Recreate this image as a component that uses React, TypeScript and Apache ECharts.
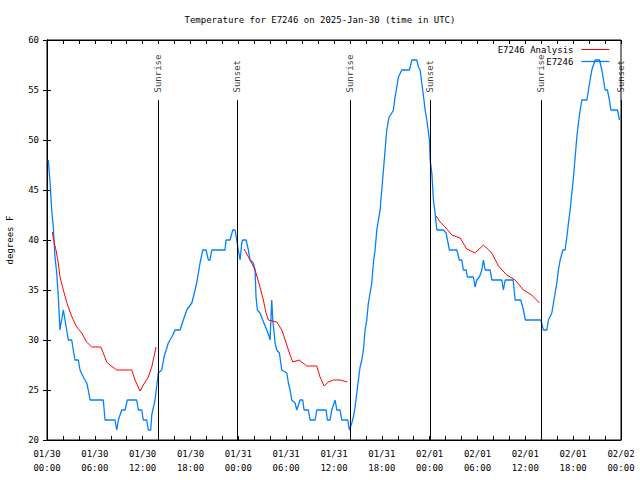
import React, { useEffect, useRef } from "react";
import * as echarts from "echarts";

// Hours since 2025-01-30 00:00 UTC
const stationHours = [
  0.16, 0.38, 0.59, 0.79, 1.0, 1.22, 1.42, 1.63, 1.72, 1.84, 2.05, 2.26, 2.47, 2.67, 3.1, 3.3, 3.51, 3.93, 4.14, 4.55,
  4.98, 5.18, 5.4, 7.06, 7.28, 8.53, 8.75, 8.95, 9.37, 9.79, 10.08, 11.25, 11.46, 11.88, 12.08, 12.51, 12.71, 13.01, 13.14, 13.55,
  13.96, 14.39, 14.68, 15.22, 15.65, 16.06, 16.69, 17.1, 17.53, 18.16, 18.36, 18.78, 19.2, 19.54, 19.95, 20.24, 20.45, 20.66, 22.33, 22.46,
  22.96, 23.3, 23.59, 23.8, 24.0, 24.22, 24.43, 24.55, 24.97, 25.26, 25.47, 25.88, 26.1, 26.22, 26.39, 26.72, 27.06, 27.57, 27.89, 27.98,
  28.19, 28.32, 28.61, 28.82, 29.15, 29.45, 30.08, 30.28, 30.49, 30.7, 31.12, 31.33, 31.74, 32.08, 32.25, 32.79, 33.0, 33.63, 33.84, 35.01,
  35.17, 35.51, 35.72, 36.14, 36.35, 36.76, 36.98, 37.73, 37.93, 38.23, 38.43, 38.64, 38.86, 39.06, 39.27, 39.49, 39.69, 39.9, 40.11, 40.31,
  40.53, 40.74, 40.94, 41.15, 41.37, 41.78, 41.99, 42.2, 42.41, 42.62, 42.91, 43.25, 43.45, 43.66, 43.88, 44.08, 44.5, 45.46, 45.76, 46.39,
  46.59, 46.8, 47.01, 47.21, 47.43, 47.64, 47.97, 48.06, 48.27, 48.47, 48.68, 48.9, 49.72, 50.06, 50.48, 51.4, 51.73, 52.03, 52.23, 52.57,
  52.73, 53.49, 53.7, 53.91, 54.24, 54.54, 54.74, 54.96, 55.58, 55.8, 57.05, 57.25, 57.47, 58.09, 58.47, 58.72, 59.43, 59.76, 60.01, 61.94,
  62.27, 62.7, 62.9, 63.32, 63.53, 63.74, 63.95, 64.15, 64.37, 64.71, 64.99, 65.21, 65.41, 65.62, 65.83, 66.04, 66.25, 66.46, 66.66, 66.88,
  67.09, 67.72, 67.92, 68.13, 68.34, 68.76, 69.3, 69.6, 69.8, 70.01, 70.3, 70.55, 70.73, 71.56, 71.81,
];
const stationTemps = [
  48, 45.8, 43, 41.3, 38.3, 36.7, 34.3, 31, 31.5, 32, 33, 32, 31, 30, 30, 29, 28, 28, 27, 26.3,
  25.7, 25, 24, 24, 22, 22, 21, 22, 23, 23, 24, 24, 23, 23, 22, 22, 21, 21, 22.5, 24,
  26.7, 27, 28.3, 29.7, 30.3, 31, 31, 32, 33, 33.7, 34.3, 35.7, 37.7, 39, 39, 38, 38, 39, 39, 40,
  40, 41, 41, 40, 39, 38, 39.7, 40, 40, 39, 38, 37.7, 37, 34.3, 33, 32.7, 32, 31, 30.3, 30,
  34, 32, 29.7, 29, 28.7, 27, 26.7, 25.7, 25, 24, 23.7, 23, 24, 24, 23, 23, 22, 22, 23, 23,
  22, 22, 23, 24, 23, 23, 22, 22, 21, 21.7, 22.3, 23.3, 24.7, 26, 27.3, 28, 29, 31, 32, 33.7,
  34.7, 35.7, 37.7, 39, 41, 43, 45, 47, 49, 51, 52.3, 52.7, 53, 54.3, 55.3, 56.3, 57, 57, 58, 58,
  57.3, 57, 55.7, 54.5, 53, 52, 50, 48, 46.7, 44, 42.7, 41, 41, 40.7, 39, 39, 38, 38, 37, 37,
  36.3, 36.3, 35.3, 36, 36.3, 37, 38, 37, 37, 36, 36, 35, 36, 36, 36, 34, 34, 33, 32, 32,
  31, 31, 32, 32.7, 33.7, 34.7, 35.7, 37, 38, 39, 39, 40.3, 41.7, 43, 44.7, 46.3, 48.3, 50.3, 51.7, 53,
  54, 54, 55, 56, 57, 58, 58, 57, 56, 55, 55, 54, 53, 53, 52,
];

// Analysis (nighttime segments; null = gap)
const analysisHours = [
  0.66, 0.88, 1.13, 1.42, 1.63, 2.05, 2.47, 2.89, 3.3, 3.73, 4.35, 4.98, 5.61, 6.74, 7.06, 7.49, 7.9, 8.75, 10.63, 11.04,
  11.67, 12.3, 12.71, 13.14, 13.68, 19.0,
  24.72, 25.47, 26.1, 26.72, 27.14, 27.48, 27.77, 28.82, 29.45, 30.08, 30.49, 30.83, 31.62, 32.58, 33.84, 34.25, 34.76, 35.29, 35.92, 36.76,
  37.68, 43.0,
  48.81, 49.31, 49.94, 50.78, 51.82, 52.66, 53.7, 54.74, 55.8, 56.63, 57.68, 58.72, 59.76, 60.81, 61.77,
];
const analysisTemps: (number | null)[] = [
  40.8, 39.8, 39, 37.7, 36.3, 35, 33.8, 32.8, 32, 31.3, 30.7, 29.8, 29.3, 29.3, 28.7, 27.8, 27.5, 27, 27, 26,
  24.9, 25.8, 26.3, 27.3, 29.3, null,
  39.1, 38, 37, 35.3, 34, 32.7, 32, 31.8, 31, 29.5, 28.5, 27.8, 28, 27.4, 27.4, 26.3, 25.4, 25.8, 26, 26,
  25.8, null,
  42.4, 41.8, 41.3, 40.5, 40.2, 39.1, 38.7, 39.5, 38.7, 37.4, 36.5, 36, 35, 34.5, 33.7,
];

const sunEventHours = [13.93, 23.84, 38.02, 48.06, 61.98, 72.0];
const sunEventNames = ["Sunrise", "Sunset", "Sunrise", "Sunset", "Sunrise", "Sunset"];
const sunLineTop = 54;

const xTicks = { min: 0, max: 72, interval: 6 };
const yTicks = { min: 20, max: 60, interval: 5 };

const FONT = "DejaVu Sans Mono";
const RED = "#ff0000";
const BLUE = "#0080ff";

function fmtHour(h: number): string {
  const d = new Date(Date.UTC(2025, 0, 30) + h * 3600 * 1000);
  const p = (n: number) => String(n).padStart(2, "0");
  return `${p(d.getUTCMonth() + 1)}/${p(d.getUTCDate())}\n${p(d.getUTCHours())}:${p(d.getUTCMinutes())}`;
}

export default function App() {
  const ref = useRef<HTMLDivElement>(null);
  useEffect(() => {
    if (!ref.current) return;
    const chart = echarts.init(ref.current, undefined, { renderer: "svg" });
    const station = stationHours.map((h, i) => [h, stationTemps[i]]);
    const analysis = analysisHours.map((h, i) => [h, analysisTemps[i]]);
    const sunPts = sunEventHours.map((h, i) => ({ value: [h, sunLineTop], name: sunEventNames[i] }));
    const sunLines = sunEventHours.map((h) => [{ coord: [h, yTicks.min] }, { coord: [h, sunLineTop] }]);

    const baseX = {
      type: "value",
      min: xTicks.min,
      max: xTicks.max,
      interval: xTicks.interval,
      axisLine: { show: true, lineStyle: { color: "#000", width: 1 } },
      axisTick: { show: true, inside: true, length: 4, lineStyle: { color: "#000" } },
      minorTick: { show: true, splitNumber: 3, length: 4, lineStyle: { color: "#000" } },
      splitLine: { show: false },
      minorSplitLine: { show: false },
    };
    const baseY = {
      type: "value",
      min: yTicks.min,
      max: yTicks.max,
      interval: yTicks.interval,
      axisLine: { show: true, lineStyle: { color: "#000", width: 1 } },
      axisTick: { show: true, inside: true, length: 4, lineStyle: { color: "#000" } },
      splitLine: { show: false },
    };
    const legendBase = {
      orient: "vertical",
      align: "right",
      right: 30,
      itemWidth: 28,
      itemHeight: 10,
      padding: 0,
      itemStyle: { opacity: 0 },
      textStyle: { fontFamily: FONT, fontSize: 9, color: "#000", padding: [0, 3, 0, 0] },
    };

    chart.setOption({
      animation: false,
      backgroundColor: "#fff",
      textStyle: { fontFamily: FONT },
      title: {
        text: "Temperature for E7246 on 2025-Jan-30 (time in UTC)",
        left: "center",
        top: 10,
        textStyle: { fontFamily: FONT, fontSize: 9, fontWeight: "normal", color: "#000" },
      },
      legend: [
        {
          ...legendBase,
          data: [{ name: "E7246 Analysis", lineStyle: { color: RED, width: 1, opacity: 1 } }],
          top: 45,
        },
        {
          ...legendBase,
          data: [{ name: "E7246", lineStyle: { color: BLUE, width: 1.3, opacity: 1 } }],
          top: 57,
        },
      ],
      grid: {
        left: 47,
        right: 19,
        top: 40,
        bottom: 40,
        show: true,
        borderColor: "#000",
        borderWidth: 1,
        containLabel: false,
        outerBoundsMode: "none",
      },
      xAxis: [
        {
          ...baseX,
          position: "bottom",
          axisLabel: {
            show: true,
            formatter: (v: number) => fmtHour(v),
            fontFamily: FONT,
            fontSize: 9,
            color: "#000",
            lineHeight: 14,
            margin: 7,
          },
        },
        { ...baseX, position: "top", axisLabel: { show: false } },
      ],
      yAxis: [
        {
          ...baseY,
          position: "left",
          name: "degrees F",
          nameLocation: "middle",
          nameGap: 33,
          nameTextStyle: { fontFamily: FONT, fontSize: 9, color: "#000" },
          axisLabel: { show: true, fontFamily: FONT, fontSize: 9, color: "#000", margin: 8 },
        },
        { ...baseY, position: "right", axisLabel: { show: false } },
      ],
      series: [
        {
          name: "E7246 Analysis",
          type: "line",
          data: analysis,
          symbol: "none",
          showSymbol: false,
          connectNulls: false,
          lineStyle: { color: RED, width: 1 },
          itemStyle: { color: RED },
          z: 3,
        },
        {
          name: "E7246",
          type: "line",
          data: station,
          symbol: "none",
          showSymbol: false,
          lineStyle: { color: BLUE, width: 1.3 },
          itemStyle: { color: BLUE },
          z: 2,
        },
        {
          name: "sun",
          type: "scatter",
          data: sunPts,
          symbolSize: 1,
          itemStyle: { color: "rgba(0,0,0,0)" },
          silent: true,
          clip: false,
          label: {
            show: true,
            position: "top",
            distance: 7,
            rotate: 90,
            align: "left",
            verticalAlign: "middle",
            formatter: (p: any) => p.name,
            fontFamily: FONT,
            fontSize: 9,
            color: "#000",
          },
          markLine: {
            silent: true,
            symbol: "none",
            label: { show: false },
            lineStyle: { color: "#000", width: 1, type: "solid" },
            data: sunLines,
          },
          z: 4,
        },
      ],
    });
    return () => chart.dispose();
  }, []);
  return <div ref={ref} style={{ width: 640, height: 480, position: "absolute", left: 0, top: 0 }} />;
}
